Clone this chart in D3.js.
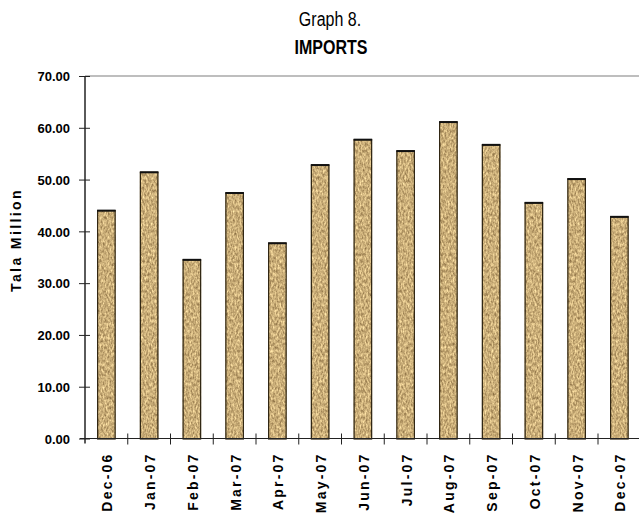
<!DOCTYPE html>
<html>
<head>
<meta charset="utf-8">
<script src="https://cdn.jsdelivr.net/npm/d3@7"></script>
<style>
  html, body { margin: 0; padding: 0; background: #fff; }
  svg { display: block; }
  .title { font-family: "Liberation Sans", Arial, Helvetica, sans-serif; fill: #000; }
  .lbl { font-family: "Liberation Sans", Arial, Helvetica, sans-serif; font-weight: bold; fill: #000; }
</style>
</head>
<body>
<svg id="chart" width="639" height="514"></svg>
<script>
// Monthly imports, Tala million
const categories = ["Dec-06", "Jan-07", "Feb-07", "Mar-07", "Apr-07", "May-07", "Jun-07",
                    "Jul-07", "Aug-07", "Sep-07", "Oct-07", "Nov-07", "Dec-07"];
const imports = [44.1, 51.5, 34.6, 47.5, 37.8, 52.9, 57.8, 55.6, 61.2, 56.8, 45.6, 50.2, 42.9];
const yTicks = [0, 10, 20, 30, 40, 50, 60, 70];

const svg = d3.select("#chart");
const plotLeft = 85, plotRight = 640.75, plotTop = 76, plotBottom = 438.5;

const x = d3.scaleBand().domain(categories).range([plotLeft, plotRight])
  .paddingInner(0.567).paddingOuter(0.2835);
const y = d3.scaleLinear().domain([0, 70]).range([plotBottom, plotTop]);

// Burlap-like texture for the bars
const defs = svg.append("defs");
const f = defs.append("filter").attr("id", "burlap")
  .attr("color-interpolation-filters", "sRGB")
  .attr("x", 0).attr("y", 0).attr("width", 1).attr("height", 1);
f.append("feTurbulence").attr("type", "fractalNoise")
  .attr("baseFrequency", "0.6 0.3").attr("numOctaves", 3).attr("seed", 7).attr("result", "noise");
f.append("feColorMatrix").attr("in", "noise").attr("type", "matrix")
  .attr("values", "0.65 0 0 0 0.47  0.65 0 0 0 0.36  0.55 0 0 0 0.2  0 0 0 0 1")
  .attr("result", "tan");
f.append("feComposite").attr("in", "tan").attr("in2", "SourceGraphic").attr("operator", "in");

// Titles (condensed face)
svg.append("text").attr("class", "title")
  .attr("transform", "translate(330,26) scale(0.8,1)")
  .attr("text-anchor", "middle").style("font-size", "20px").text("Graph 8.");
svg.append("text").attr("class", "title")
  .attr("transform", "translate(331,54) scale(0.8,1)")
  .attr("text-anchor", "middle").style("font-size", "20px").style("font-weight", "bold").text("IMPORTS");

// Plot frame top line
svg.append("line").attr("x1", plotLeft).attr("x2", 639).attr("y1", plotTop).attr("y2", plotTop)
  .attr("stroke", "#a8a8a8").attr("stroke-width", 1.5);

// Bars
const bars = svg.append("g");
bars.selectAll("rect.fill").data(imports).join("rect").attr("class", "fill")
  .attr("x", (d, i) => x(categories[i]))
  .attr("y", d => y(d))
  .attr("width", x.bandwidth())
  .attr("height", d => y(0) - y(d))
  .attr("fill", "#c2a471")
  .attr("filter", "url(#burlap)");
bars.selectAll("rect.edge").data(imports).join("rect").attr("class", "edge")
  .attr("x", (d, i) => x(categories[i]) + 0.5)
  .attr("y", d => y(d) + 0.5)
  .attr("width", x.bandwidth() - 1)
  .attr("height", d => y(0) - y(d))
  .attr("fill", "none").attr("stroke", "#2e2412").attr("stroke-width", 1.2);
bars.selectAll("line.topcap").data(imports).join("line").attr("class", "topcap")
  .attr("x1", (d, i) => x(categories[i]))
  .attr("x2", (d, i) => x(categories[i]) + x.bandwidth())
  .attr("y1", d => y(d) + 0.5).attr("y2", d => y(d) + 0.5)
  .attr("stroke", "#111").attr("stroke-width", 2);

// Y axis
const yAxis = svg.append("g").attr("transform", `translate(${plotLeft},0)`)
  .call(d3.axisLeft(y).tickValues(yTicks).tickFormat(d3.format(".2f"))
    .tickSize(5).tickPadding(10));
yAxis.select(".domain").attr("stroke", "#5a5a5a").attr("stroke-width", 2)
  .attr("d", `M0,${plotTop}V${plotBottom + 5}`);
yAxis.selectAll(".tick line").attr("x1", 5).attr("x2", -6).attr("stroke", "#222");
yAxis.selectAll(".tick text").attr("class", "lbl").style("font-size", "13px")
  .attr("dy", "0.36em");

// X axis
svg.append("line").attr("x1", plotLeft - 5).attr("x2", 639).attr("y1", plotBottom).attr("y2", plotBottom)
  .attr("stroke", "#222").attr("stroke-width", 1.2);
const bounds = d3.range(categories.length + 1).map(i => plotLeft + i * x.step());
svg.append("g").selectAll("line").data(bounds.slice(1)).join("line")
  .attr("x1", d => d).attr("x2", d => d)
  .attr("y1", plotBottom - 5).attr("y2", plotBottom + 6)
  .attr("stroke", "#222").attr("stroke-width", 1);

const xAxis = svg.append("g").attr("transform", `translate(0,${plotBottom})`)
  .call(d3.axisBottom(x).tickSize(0).tickPadding(0));
xAxis.select(".domain").remove();
xAxis.selectAll(".tick text").attr("class", "lbl")
  .style("font-size", "14px").style("letter-spacing", "2.2px")
  .attr("text-anchor", "end")
  .attr("transform", "translate(6,14) rotate(-90)")
  .attr("x", 0).attr("y", 0).attr("dy", 0);

// Y axis title
svg.append("text").attr("class", "lbl")
  .attr("transform", "translate(21,240) rotate(-90)")
  .attr("text-anchor", "middle").style("font-size", "14px").style("letter-spacing", "2.4px")
  .text("Tala Million");
</script>
</body>
</html>
